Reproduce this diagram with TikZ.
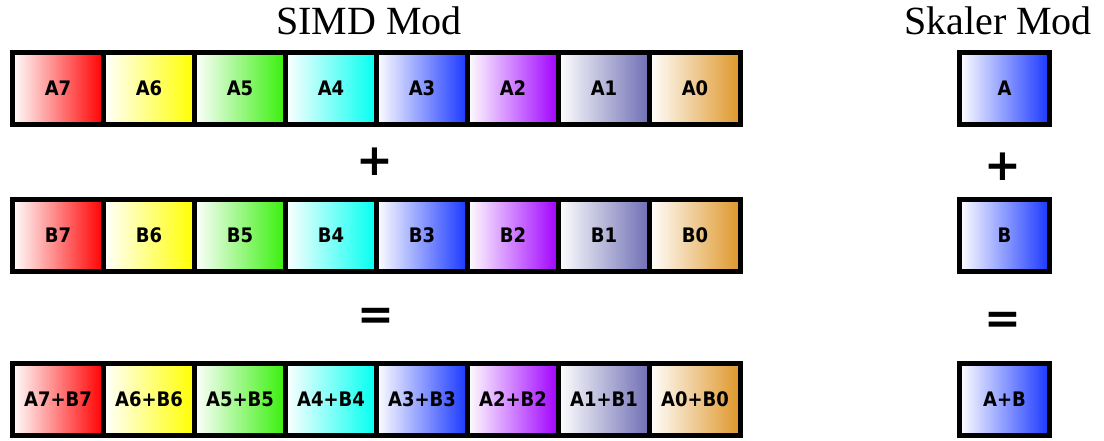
\documentclass[tikz,border=0pt]{standalone}
\usepackage{fontspec}
\setmainfont{Liberation Serif}
\newfontfamily\cellfont{DejaVu Sans Condensed}
\newfontfamily\opfont{DejaVu Sans}
\definecolor{cRed}{RGB}{255,0,0}
\definecolor{cYellow}{RGB}{255,255,0}
\definecolor{cGreen}{RGB}{55,240,10}
\definecolor{cCyan}{RGB}{0,255,240}
\definecolor{cBlue}{RGB}{25,55,255}
\definecolor{cPurple}{RGB}{160,0,255}
\definecolor{cSlate}{RGB}{110,110,180}
\definecolor{cOrange}{RGB}{222,150,40}
\tikzset{
  cell/.style={draw=black, line width=5pt, minimum width=91pt, minimum height=72pt,
    inner sep=0pt, font=\cellfont\bfseries\fontsize{20}{20}\selectfont, left color=white},
  scell/.style={cell, minimum width=90pt, right color=cBlue},
  title/.style={font=\fontsize{40}{40}\selectfont, anchor=base},
  op/.style={font=\opfont\bfseries\fontsize{44}{44}\selectfont, inner sep=0pt}
}
\begin{document}
\begin{tikzpicture}[x=1pt,y=-1pt]
\useasboundingbox (0,0) rectangle (1104,441);
\node[title] (simd) at (369,35) {SIMD Mod};
\node[title] (skal) at (998,35) {Skaler Mod};
\foreach \c [count=\i from 0] in {cRed,cYellow,cGreen,cCyan,cBlue,cPurple,cSlate,cOrange}{
  \pgfmathtruncatemacro{\n}{7-\i}
  \node[cell, right color=\c] (a\n) at (58+91*\i,88.5) {A\n};
  \node[cell, right color=\c] (b\n) at (58+91*\i,235.5) {B\n};
  \node[cell, right color=\c] (r\n) at (58+91*\i,399.5) {A\n+B\n};
}
\node[scell] (sa) at (1004.5,88.5) {A};
\node[scell] (sb) at (1004.5,235.5) {B};
\node[scell] (sr) at (1004.5,399.5) {A+B};
\node[op] (plus) at (375,162) {+};
\node[op] (eq) at (376,319) {=};
\node[op] (splus) at (1003,167) {+};
\node[op] (seq) at (1003,323) {=};
\end{tikzpicture}
\end{document}
